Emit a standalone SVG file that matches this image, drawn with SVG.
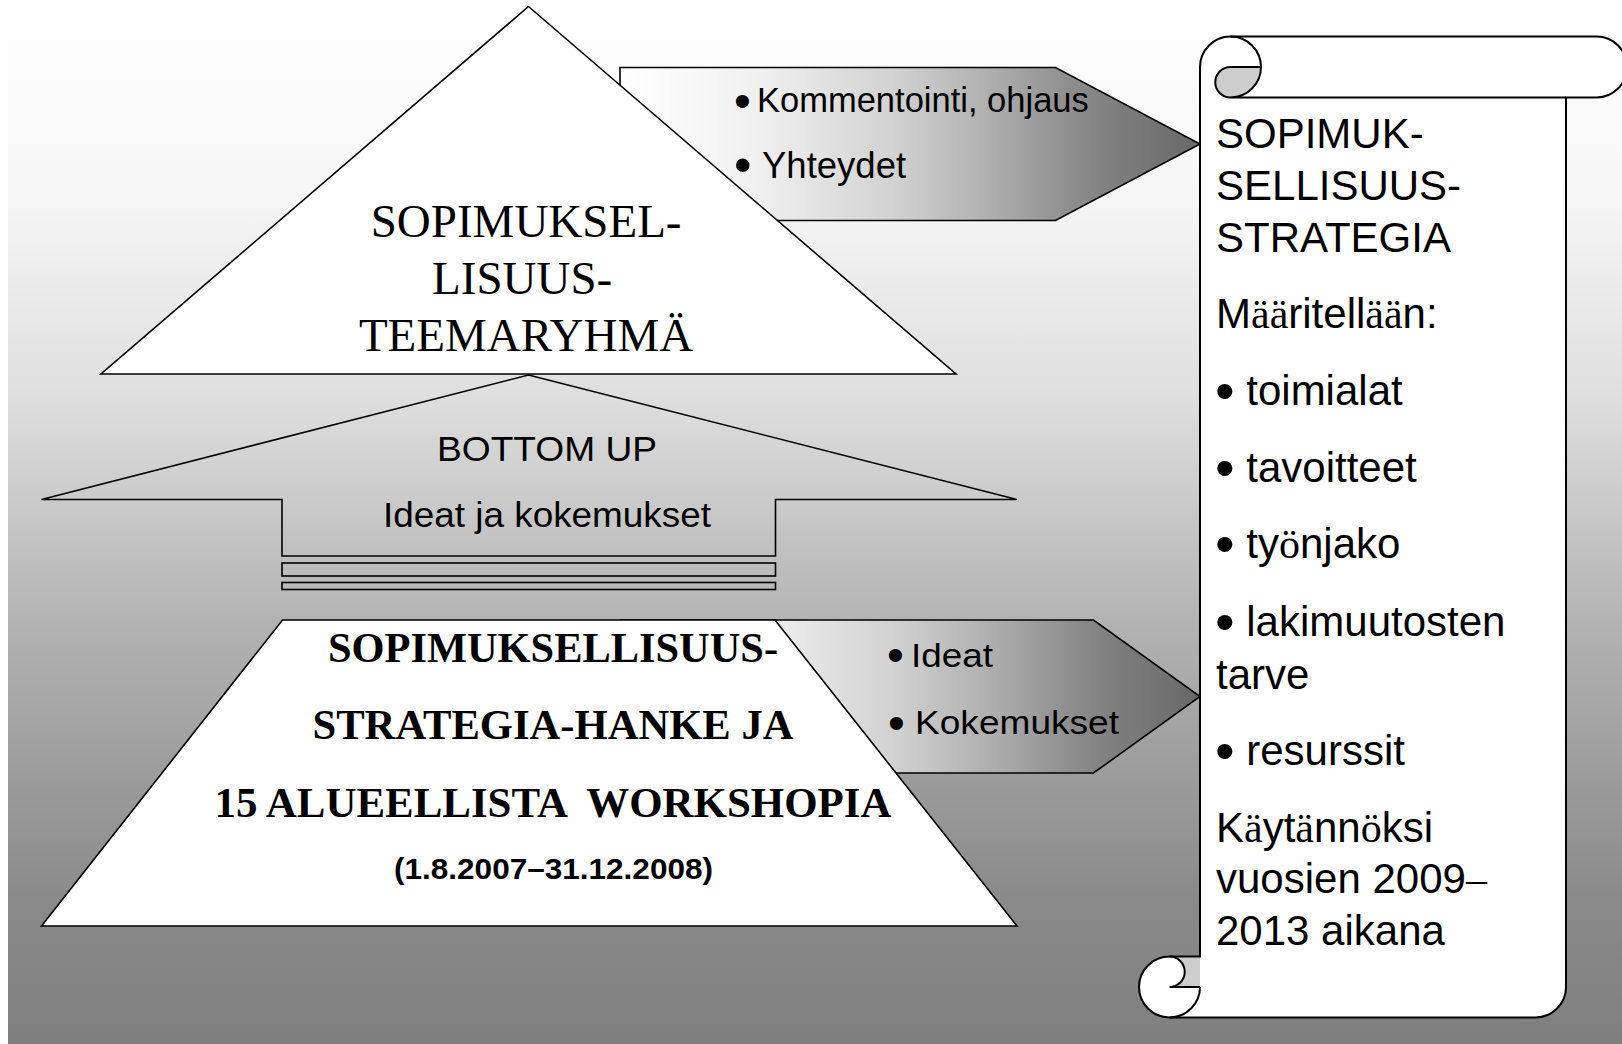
<svg xmlns="http://www.w3.org/2000/svg" width="1622" height="1044" viewBox="0 0 1622 1044">
<defs>
<linearGradient id="bg" gradientUnits="userSpaceOnUse" x1="0" y1="0" x2="0" y2="1044">
<stop offset="0" stop-color="#ffffff"/>
<stop offset="0.19" stop-color="#f6f6f6"/>
<stop offset="0.383" stop-color="#dedede"/>
<stop offset="0.594" stop-color="#b3b3b3"/>
<stop offset="0.862" stop-color="#8a8a8a"/>
<stop offset="1" stop-color="#7f7f7f"/>
</linearGradient>
<linearGradient id="arr" gradientUnits="userSpaceOnUse" x1="620" y1="0" x2="1200" y2="0">
<stop offset="0" stop-color="#ffffff"/>
<stop offset="0.241" stop-color="#f0f0f0"/>
<stop offset="0.483" stop-color="#d0d0d0"/>
<stop offset="0.655" stop-color="#ababab"/>
<stop offset="0.828" stop-color="#828282"/>
<stop offset="1" stop-color="#686868"/>
</linearGradient>
<style>
.ln{stroke:#000;stroke-width:1.6;fill:none}
.wh{fill:#fff;stroke:#000;stroke-width:1.6}
.ar{fill:url(#arr);stroke:#000;stroke-width:1.6}
.sc{stroke:#000;stroke-width:2;fill:none}
.gr{fill:#cdcdcd}
.sans{font-family:"Liberation Sans",Arial,sans-serif;fill:#000}
.serif{font-family:"Liberation Serif","Times New Roman",serif;fill:#000}
.scr{font-size:42px}
.bul{font-size:56px}
.ttl{font-family:"Liberation Serif","Times New Roman",serif;font-size:42px;font-weight:bold;fill:#000}
</style>
</defs>
<rect x="0" y="0" width="1622" height="1044" fill="#ffffff"/>
<rect x="8" y="0" width="1614" height="1044" fill="url(#bg)"/>

<g id="connectors">
  <g id="arrow-top">
    <polygon class="ar" points="620,67.5 1055.5,67.5 1200,144 1055.5,220.5 620,220.5"/>
    <text class="sans" x="734" y="116.7" font-size="48">•</text>
    <text class="sans" x="757" y="112" font-size="34.5">Kommentointi, ohjaus</text>
    <text class="sans" x="734" y="181.5" font-size="50">•</text>
    <text class="sans" x="762" y="178" font-size="36.5">Yhteydet</text>
  </g>
  <g id="arrow-up">
    <polygon class="ln" points="528.5,375 1017,499.5 775.5,499.5 775.5,556 282,556 282,499.5 41.5,499.5"/>
    <rect class="ln" x="282" y="563" width="493.5" height="13"/>
    <rect class="ln" x="282" y="582.5" width="493.5" height="7"/>
    <text class="sans" x="547" y="461" font-size="35" text-anchor="middle" textLength="220" lengthAdjust="spacingAndGlyphs">BOTTOM UP</text>
    <text class="sans" x="547" y="527" font-size="35" text-anchor="middle" textLength="328" lengthAdjust="spacingAndGlyphs">Ideat ja kokemukset</text>
  </g>
  <g id="arrow-bottom">
    <polygon class="ar" points="620,620 1093.5,620 1200,696.5 1093.5,773 620,773"/>
    <text class="sans" x="887" y="670.8" font-size="48">•</text>
    <text class="sans" x="911" y="667" font-size="34" textLength="82" lengthAdjust="spacingAndGlyphs">Ideat</text>
    <text class="sans" x="888" y="738.8" font-size="48">•</text>
    <text class="sans" x="915" y="734" font-size="34" textLength="204" lengthAdjust="spacingAndGlyphs">Kokemukset</text>
  </g>
</g>

<g id="teemaryhma">
  <polygon class="wh" points="528.5,6.5 956,374 101,374"/>
  <text class="serif" font-size="47" text-anchor="middle">
    <tspan x="532" y="237">SOPIMUKSEL-</tspan>
    <tspan x="528" y="294">LISUUS-</tspan>
    <tspan x="526" y="351">TEEMARYHMÄ</tspan>
  </text>
</g>

<g id="hanke">
  <polygon class="wh" points="282.5,620 775,620 1017,926 41.5,926"/>
  <text class="ttl" x="553" y="662" text-anchor="middle" textLength="450" lengthAdjust="spacingAndGlyphs">SOPIMUKSELLISUUS-</text>
  <text class="ttl" x="553" y="739" text-anchor="middle" textLength="481" lengthAdjust="spacingAndGlyphs">STRATEGIA-HANKE JA</text>
  <text class="ttl" x="553" y="817" text-anchor="middle" textLength="677" lengthAdjust="spacingAndGlyphs" xml:space="preserve">15 ALUEELLISTA  WORKSHOPIA</text>
  <text class="sans" x="553.5" y="879" font-size="30" font-weight="bold" text-anchor="middle" textLength="319" lengthAdjust="spacingAndGlyphs">(1.8.2007–31.12.2008)</text>
</g>

<g id="strategia">
  <path fill="#ffffff" d="M1169.5,1017.5 A30.5,30.5 0 0 0 1200,987 L1200,67 A30.5,30.5 0 0 1 1230.5,36.5 L1596.5,36.5 A30.5,30.5 0 0 1 1596.5,97.5 L1566,97.5 L1566,987 A30.5,30.5 0 0 1 1535.5,1017.5 Z"/>
  <circle cx="1169.5" cy="987" r="30.5" fill="#ffffff"/>
  <path class="gr" d="M1261,67 A30.5,30.5 0 0 1 1230.5,97.5 A15.25,15.25 0 0 1 1230.5,67 Z"/>
  <path class="gr" d="M1200,956.5 L1200,987 L1169.5,987 A15.25,15.25 0 0 0 1169.5,956.5 Z"/>
  <path class="sc" d="M1200,956.5 L1200,67 A30.5,30.5 0 0 1 1230.5,36.5 L1596.5,36.5 A30.5,30.5 0 0 1 1596.5,97.5 L1566,97.5 L1566,987 A30.5,30.5 0 0 1 1535.5,1017.5 L1169.5,1017.5 A30.5,30.5 0 0 1 1169.5,956.5 Z"/>
  <path class="sc" d="M1230.5,36.5 A30.5,30.5 0 0 1 1230.5,97.5 A15.25,15.25 0 0 1 1230.5,67 L1261,67 M1566,97.5 L1230.5,97.5 M1169.5,956.5 A15.25,15.25 0 0 1 1169.5,987 L1200,987 M1169.5,1017.5 A30.5,30.5 0 0 0 1200,987"/>
  <text class="sans scr">
    <tspan x="1216" y="148">SOPIMUK-</tspan>
    <tspan x="1216" y="200">SELLISUUS-</tspan>
    <tspan x="1216" y="252">STRATEGIA</tspan>
    <tspan x="1216" y="328">M<tspan class="serif">ää</tspan>ritell<tspan class="serif">ää</tspan>n:</tspan>
    <tspan x="1215" y="409.9" class="bul">•</tspan><tspan dy="-4.9"> toimialat</tspan>
    <tspan x="1215" y="486.9" class="bul">•</tspan><tspan dy="-4.9"> tavoitteet</tspan>
    <tspan x="1215" y="562.9" class="bul">•</tspan><tspan dy="-4.9"> ty<tspan class="serif">ö</tspan>njako</tspan>
    <tspan x="1215" y="640.9" class="bul">•</tspan><tspan dy="-4.9"> lakimuutosten</tspan>
    <tspan x="1216" y="689">tarve</tspan>
    <tspan x="1215" y="769.9" class="bul">•</tspan><tspan dy="-4.9"> resurssit</tspan>
    <tspan x="1216" y="842">K<tspan class="serif">ä</tspan>yt<tspan class="serif">ä</tspan>nn<tspan class="serif">ö</tspan>ksi</tspan>
    <tspan x="1216" y="893">vuosien 2009<tspan class="serif">–</tspan></tspan>
    <tspan x="1216" y="945">2013 aikana</tspan>
  </text>
</g>
</svg>
